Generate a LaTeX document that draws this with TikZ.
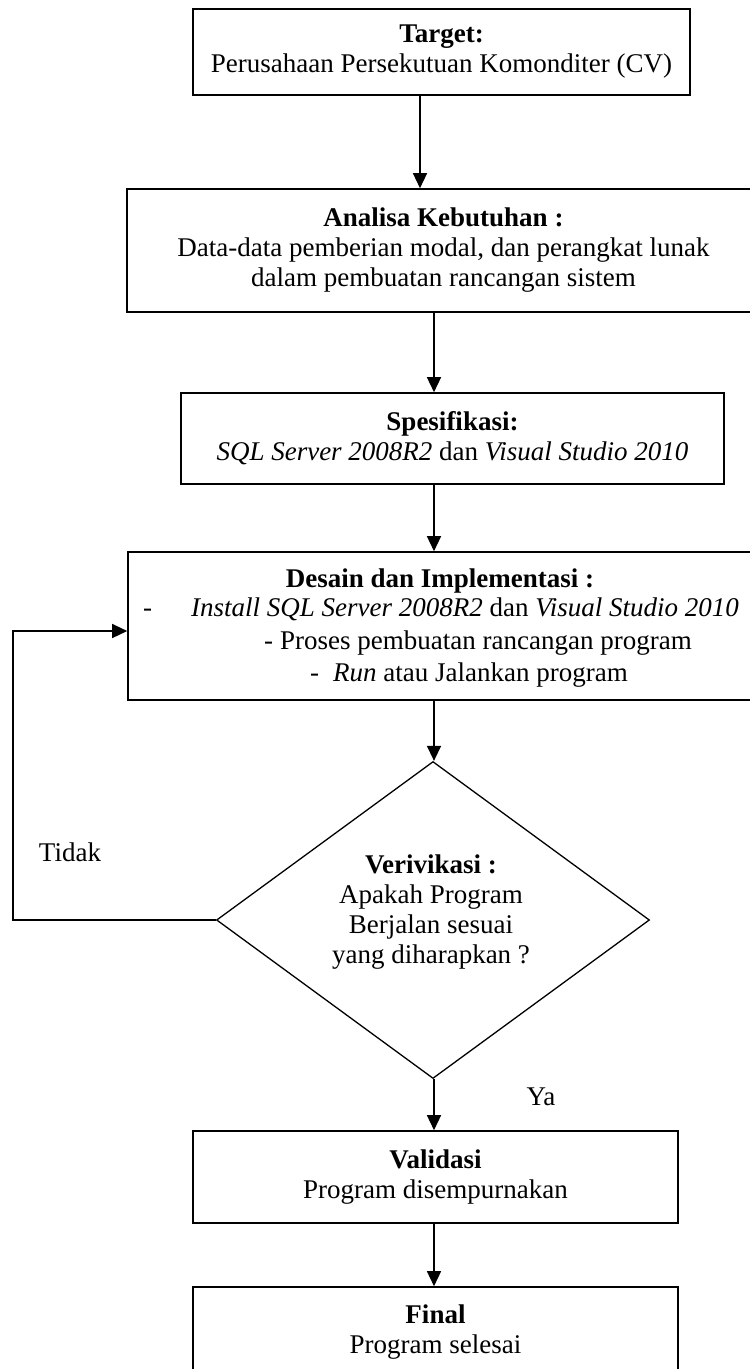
\documentclass[tikz,border=0pt]{standalone}
\usepackage{fontspec}
\setmainfont{Liberation Serif}
\usetikzlibrary{arrows.meta,shapes.geometric}
\tikzset{
  box/.style={draw=black, line width=1.6pt, rectangle, inner sep=0pt, align=center,
    font=\fontsize{27}{30}\selectfont},
  dia/.style={draw=black, line width=1.3pt, diamond, inner sep=0pt},
  txt/.style={inner sep=0pt, font=\fontsize{27}{30}\selectfont},
  arr/.style={line width=1.4pt, -{Triangle[length=15pt,width=14pt]}},
  con/.style={line width=1.4pt}
}
\begin{document}
\begin{tikzpicture}[x=1pt,y=-1pt]
\useasboundingbox (0,0) rectangle (750,1369);

% boxes
\node[box, minimum width=497pt, minimum height=86pt] (b1) at (441.5,52)
  {\textbf{Target:}\\Perusahaan Persekutuan Komonditer (CV)};
\node[box, minimum width=633pt, minimum height=123pt] (b2) at (443.5,250.5)
  {\textbf{Analisa Kebutuhan :}\\Data-data pemberian modal, dan perangkat lunak\\dalam pembuatan rancangan sistem};
\node[box, minimum width=543pt, minimum height=91pt] (b3) at (452.5,438.5)
  {\textbf{Spesifikasi:}\\\textit{SQL Server 2008R2} dan \textit{Visual Studio 2010}};
\node[box, minimum width=632pt, minimum height=148pt] (b4) at (444,626) {};
\node[txt] (b4t) at (440,581) {\textbf{Desain dan Implementasi :}};
\node[txt, anchor=mid west] (b4d1) at (143,614) {-};
\node[txt, anchor=mid west] (b4l1) at (191,614) {\textit{Install SQL Server 2008R2} dan \textit{Visual Studio 2010}};
\node[txt, anchor=mid west] (b4d2) at (264,647) {-};
\node[txt, anchor=mid west] (b4l2) at (280,647) {Proses pembuatan rancangan program};
\node[txt, anchor=mid west] (b4d3) at (310,679) {-};
\node[txt, anchor=mid west] (b4l3) at (333,679) {\textit{Run} atau Jalankan program};

\node[dia, minimum width=433pt, minimum height=317pt] (d) at (433,920) {};
\node[txt, align=center] (dt) at (431,912)
  {\textbf{Verivikasi :}\\Apakah Program\\Berjalan sesuai\\yang diharapkan ?};

\node[box, minimum width=485pt, minimum height=92pt] (b5) at (435.5,1177)
  {\textbf{Validasi}\\Program disempurnakan};
\node[box, minimum width=485pt, minimum height=90pt] (b6) at (435.5,1332)
  {\textbf{Final}\\Program selesai};

% labels
\node[txt] (tidak) at (70,852) {Tidak};
\node[txt] (ya) at (541,1097) {Ya};

% connectors
\coordinate (ax1) at (420,0);
\coordinate (ax) at (434,0);
\draw[arr] (b1.south -| ax1) -- (b2.north -| ax1);
\draw[arr] (b2.south -| ax) -- (b3.north -| ax);
\draw[arr] (b3.south -| ax) -- (b4.north -| ax);
\draw[arr] (b4.south -| ax) -- (d.north -| ax);
\draw[arr] (d.south -| ax) -- (b5.north -| ax);
\draw[arr] (b5.south -| ax) -- (b6.north -| ax);
\coordinate (fb) at (13,631);
\draw[arr] (d.west) -| (fb) -- (fb -| b4.west);
\end{tikzpicture}
\end{document}
